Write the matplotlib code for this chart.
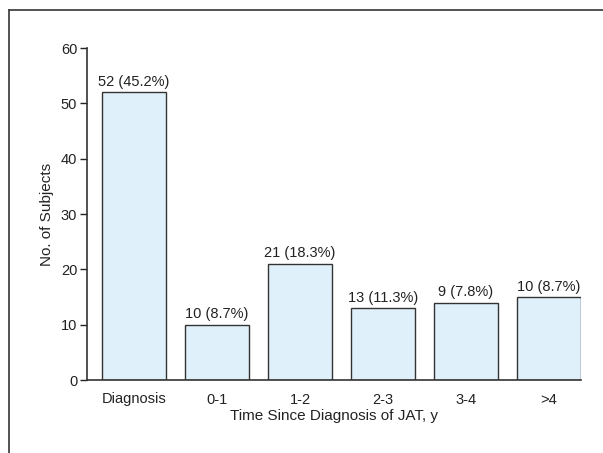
import matplotlib.pyplot as plt
from matplotlib.lines import Line2D

categories = ['Diagnosis', '0-1', '1-2', '2-3', '3-4', '>4']
bar_heights = [52, 10, 21, 13, 14, 15]
bar_labels = ['52 (45.2%)', '10 (8.7%)', '21 (18.3%)', '13 (11.3%)', '9 (7.8%)', '10 (8.7%)']
y_ticks = [0, 10, 20, 30, 40, 50, 60]

plt.rcParams['font.family'] = ['Liberation Sans Narrow', 'Liberation Sans', 'DejaVu Sans']

fig = plt.figure(figsize=(6.03, 4.53), dpi=100)
ax = fig.add_axes([87 / 603, 1 - 380 / 453, 494 / 603, (380 - 48) / 453])

x = list(range(len(categories)))
ax.bar(x, bar_heights, width=0.77, color='#dff0fa', edgecolor='#333333', linewidth=1.0)
for xi, h, lab in zip(x, bar_heights, bar_labels):
    ax.text(xi, h + 0.6, lab, ha='center', va='bottom', fontsize=10.5, color='#222222')

ax.set_xlim(-0.566, 5.385)
ax.set_ylim(0, 60)
ax.set_yticks(y_ticks)
ax.set_xticks(x)
ax.set_xticklabels(categories)
ax.tick_params(axis='x', length=0, pad=9, labelsize=10.5, colors='#222222')
ax.tick_params(axis='y', length=5, width=1, pad=2, labelsize=10.5, colors='#222222')
for s in ['top', 'right']:
    ax.spines[s].set_visible(False)
for s in ['left', 'bottom']:
    ax.spines[s].set_color('#333333')
    ax.spines[s].set_linewidth(1.2)
ax.set_xlabel('Time Since Diagnosis of JAT, y', fontsize=11, color='#222222', labelpad=2)
ax.set_ylabel('No. of Subjects', fontsize=11, color='#222222', labelpad=5)

# outer frame (top and left edges)
fig.add_artist(Line2D([9 / 603, 1], [1 - 9.5 / 453, 1 - 9.5 / 453], transform=fig.transFigure,
                      color='#444444', linewidth=1.3))
fig.add_artist(Line2D([9 / 603, 9 / 603], [0, 1 - 9.5 / 453], transform=fig.transFigure,
                      color='#444444', linewidth=1.3))

fig.savefig('out.png', dpi=100)
